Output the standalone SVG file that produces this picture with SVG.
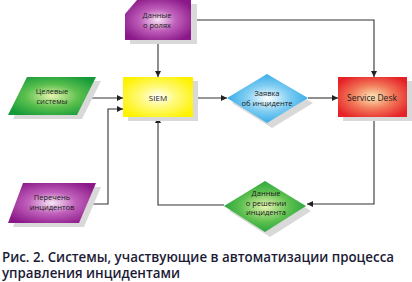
<svg xmlns="http://www.w3.org/2000/svg" width="412" height="282" viewBox="0 0 412 282">
<style>
.lbl{font-family:"Open Sans","Noto Sans","DejaVu Sans",sans-serif;font-size:7.5px;fill:#1a1a1a;text-anchor:middle}
.cap{font-family:"Open Sans","Noto Sans","DejaVu Sans",sans-serif;font-size:13.5px;font-weight:600;fill:#1b1b36}
.shadow{fill:#d9d9d9}
.conn{fill:none;stroke:#333;stroke-width:1.1}
</style>
<defs>
<radialGradient id="gPurple" cx="50%" cy="50%" r="60%"><stop offset="0" stop-color="#f6e6f4"/><stop offset="0.45" stop-color="#c060bb"/><stop offset="1" stop-color="#8a1888"/></radialGradient>
<radialGradient id="gYellow" cx="50%" cy="50%" r="60%"><stop offset="0" stop-color="#ffffff"/><stop offset="0.4" stop-color="#fffa80"/><stop offset="1" stop-color="#fff200"/></radialGradient>
<radialGradient id="gGreen" cx="50%" cy="50%" r="60%"><stop offset="0" stop-color="#e8f5b0"/><stop offset="0.5" stop-color="#5cc04e"/><stop offset="1" stop-color="#159a3a"/></radialGradient>
<radialGradient id="gBlue" cx="50%" cy="50%" r="60%"><stop offset="0" stop-color="#ffffff"/><stop offset="0.45" stop-color="#7fcdf2"/><stop offset="1" stop-color="#1c9ee2"/></radialGradient>
<radialGradient id="gRed" cx="50%" cy="50%" r="60%"><stop offset="0" stop-color="#fde9b8"/><stop offset="0.5" stop-color="#f27a5a"/><stop offset="1" stop-color="#e52228"/></radialGradient>
<marker id="arr" viewBox="0 0 10 10" refX="10" refY="5" markerWidth="6" markerHeight="6" markerUnits="userSpaceOnUse" orient="auto"><path d="M0,0 L10,5 L0,10 z" fill="#222"/></marker>
</defs>

<g id="connectors">
<path class="conn" d="M158,41 V77" marker-end="url(#arr)"/>
<path class="conn" d="M197,20 H374 V77" marker-end="url(#arr)"/>
<path class="conn" d="M86,98 H123" marker-end="url(#arr)"/>
<path class="conn" d="M88,204 H108 V109 H123" marker-end="url(#arr)"/>
<path class="conn" d="M193,98 H227" marker-end="url(#arr)"/>
<path class="conn" d="M308,98 H338" marker-end="url(#arr)"/>
<path class="conn" d="M374,117 V204 H307" marker-end="url(#arr)"/>
<path class="conn" d="M224,205 H158 V117" marker-end="url(#arr)"/>
</g>

<g id="roles">
<path class="shadow" d="M142,4 H197 V44 H130 V19 z"/>
<path d="M137,0 H191 V40 H125 V14 z" fill="url(#gPurple)"/>
<text class="lbl" x="157" y="18">Данные</text>
<text class="lbl" x="157" y="28">о ролях</text>
</g>

<g id="target">
<path class="shadow" d="M32,81 H101 L82,119 H13 z"/>
<path d="M27,77 H96 L77,115 H8 z" fill="url(#gGreen)"/>
<text class="lbl" x="52" y="94">Целевые</text>
<text class="lbl" x="52" y="104">системы</text>
</g>

<g id="incidents">
<path class="shadow" d="M28,187 H101 L84,227 H13 z"/>
<path d="M23,183 H96 L79,223 H8 z" fill="url(#gPurple)"/>
<text class="lbl" x="52" y="200">Перечень</text>
<text class="lbl" x="52" y="210">инцидентов</text>
</g>

<g id="siem">
<rect class="shadow" x="128" y="81" width="70" height="40"/>
<rect x="123" y="77" width="70" height="40" fill="url(#gYellow)"/>
<text class="lbl" x="158" y="101" style="font-size:8px">SIEM</text>
</g>

<g id="ticket">
<path class="shadow" d="M272,79 L313,103 L272,128 L232,103 z"/>
<path d="M267,74 L308,98 L267,123 L227,98 z" fill="url(#gBlue)"/>
<text class="lbl" x="267" y="96">Заявка</text>
<text class="lbl" x="267" y="106">об инциденте</text>
</g>

<g id="servicedesk">
<rect class="shadow" x="343" y="81" width="69" height="40"/>
<rect x="338" y="77" width="69" height="40" fill="url(#gRed)"/>
<text class="lbl" x="372" y="101" style="font-size:8.5px">Service Desk</text>
</g>

<g id="resolution">
<path class="shadow" d="M270,186 L311,211 L270,237 L229,211 z"/>
<path d="M265,181 L306,206 L265,232 L224,206 z" fill="url(#gGreen)"/>
<text class="lbl" x="266" y="196">Данные</text>
<text class="lbl" x="266" y="205.5">о решении</text>
<text class="lbl" x="266" y="215">инцидента</text>
</g>

<g id="caption">
<text class="cap" x="2" y="262" textLength="392" lengthAdjust="spacingAndGlyphs">Рис. 2. Системы, участвующие в автоматизации процесса</text>
<text class="cap" x="2" y="278" textLength="178" lengthAdjust="spacingAndGlyphs">управления инцидентами</text>
</g>
</svg>
